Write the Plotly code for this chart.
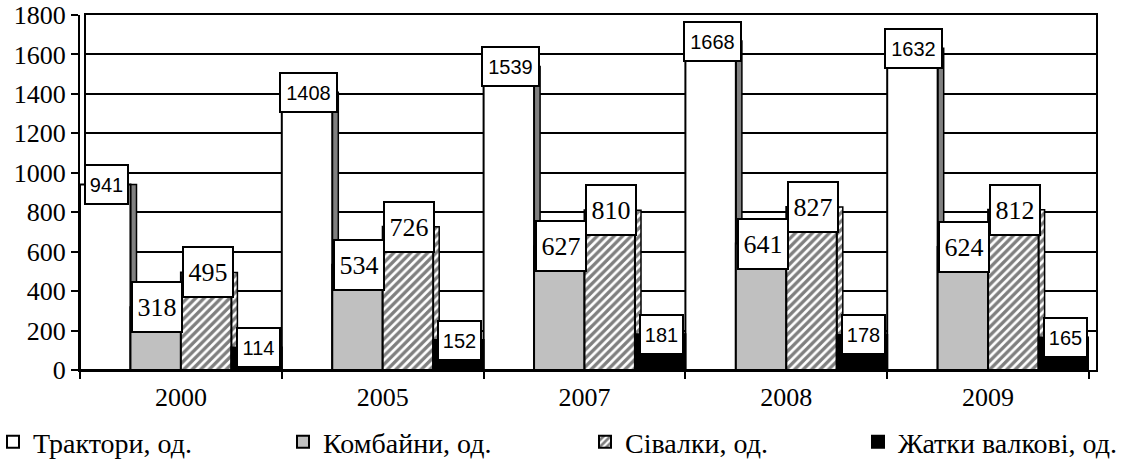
import plotly.graph_objects as go

years = ["2000", "2005", "2007", "2008", "2009"]
tractors = [941, 1408, 1539, 1668, 1632]
combines = [318, 534, 627, 641, 624]
seeders = [495, 726, 810, 827, 812]
reapers = [114, 152, 181, 178, 165]
series_names = ["Трактори, од.", "Комбайни, од.", "Сівалки, од.", "Жатки валкові, од."]
y_ticks = [0, 200, 400, 600, 800, 1000, 1200, 1400, 1600, 1800]

series = [tractors, combines, seeders, reapers]

W, H = 1125, 468
SERIF = "Liberation Serif"
SANS = "Liberation Sans"

def px_x(p):
    return p / W

def px_y(p):
    return 1 - p / H

y_dom = [px_y(370), px_y(15)]
front_x_dom = [px_x(80), px_x(1089)]
back_x_dom = [px_x(86), px_x(1096)]

bar_w = 0.25
side_w = 0.03
pattern = dict(shape="/", fgcolor="black", bgcolor="white", size=6, solidity=0.55)
fills = [dict(color="white"), dict(color="#C0C0C0"),
         dict(color="white", pattern=pattern), dict(color="black")]
side_fills = [dict(color="#808080"), dict(color="#808080"),
              dict(color="white", pattern=pattern), dict(color="black")]
label_fonts = [dict(family=SANS, size=20, color="black"),
               dict(family=SERIF, size=26, color="black"),
               dict(family=SERIF, size=26, color="black"),
               dict(family=SANS, size=20, color="black")]
legend_ids = ["legend", "legend2", "legend3", "legend4"]
legend_text_x = [28, 318, 620, 893]

fig = go.Figure()

# back-wall subplot (gridlines + frame)
fig.add_trace(go.Scatter(x=[], y=[], xaxis="x", yaxis="y", showlegend=False, hoverinfo="skip"))

# side faces of the bars (drawn first so the next bar covers them)
for j, vals in enumerate(series):
    m = dict(side_fills[j])
    m["line"] = dict(color="black", width=1.5)
    fig.add_trace(go.Bar(
        x=years, y=vals, xaxis="x2", yaxis="y2",
        offset=-0.5 + (j + 1) * bar_w, width=side_w,
        marker=m, showlegend=False, hoverinfo="skip",
    ))

# front faces
for j, vals in enumerate(series):
    m = dict(fills[j])
    m["line"] = dict(color="black", width=2)
    fig.add_trace(go.Bar(
        x=years, y=vals, name=series_names[j], xaxis="x2", yaxis="y2",
        offset=-0.5 + j * bar_w, width=bar_w,
        marker=m, legend=legend_ids[j],
    ))

annotations = []
for j, vals in enumerate(series):
    for i, v in enumerate(vals):
        txt = str(v)
        if j in (0, 3):
            bw_, bh_ = (45 if len(txt) == 3 else 59), 41
        else:
            bw_, bh_ = 52, 52
        annotations.append(dict(
            x=i - 0.5 + (j + 0.5) * bar_w, y=v, xref="x2", yref="y2",
            text=txt, showarrow=False, xanchor="center", yanchor="middle",
            xshift=1.5, font=label_fonts[j],
            bgcolor="white", bordercolor="black", borderwidth=2, borderpad=0,
            width=bw_ - 4, height=bh_ - 4,
        ))

layout = dict(
    width=W, height=H,
    margin=dict(l=0, r=0, t=0, b=0, autoexpand=False),
    paper_bgcolor="white", plot_bgcolor="rgba(0,0,0,0)",
    barmode="overlay",
    font=dict(family=SERIF, size=26, color="black"),
    annotations=annotations,
    xaxis=dict(domain=back_x_dom, anchor="y", range=[0, 1], showgrid=False,
               zeroline=False, showline=True, mirror=True, linecolor="black",
               linewidth=2, ticks="", showticklabels=False, fixedrange=True),
    yaxis=dict(domain=y_dom, anchor="x", range=[0, 1800], tickvals=y_ticks,
               showgrid=True, gridcolor="black", gridwidth=2, zeroline=False,
               showline=True, mirror=True, linecolor="black", linewidth=2,
               ticks="", showticklabels=False, fixedrange=True),
    xaxis2=dict(domain=front_x_dom, anchor="y2", type="category",
                categoryorder="array", categoryarray=years, range=[-0.5, 4.5],
                tickson="boundaries", ticks="outside", ticklen=7, tickwidth=2,
                tickcolor="black", showline=True, linecolor="black", linewidth=2,
                showgrid=False, zeroline=False, ticklabelstandoff=3,
                tickfont=dict(family=SERIF, size=26, color="black")),
    yaxis2=dict(domain=y_dom, anchor="x2", range=[0, 1800], tickvals=y_ticks,
                ticks="outside", ticklen=7, tickwidth=2, tickcolor="black",
                showline=True, linecolor="black", linewidth=2, showgrid=False,
                zeroline=False, ticklabeloverflow="allow",
                tickfont=dict(family=SERIF, size=26, color="black")),
)

for k, lid in enumerate(legend_ids):
    layout[lid] = dict(
        x=px_x(legend_text_x[k] - 35), xanchor="left",
        y=px_y(442), yanchor="middle", orientation="h",
        bgcolor="rgba(0,0,0,0)", borderwidth=0,
        font=dict(family=SERIF, size=28, color="black"),
        itemwidth=30,
    )

fig.update_layout(**layout)
fig.write_html("out.html", post_script="document.body.style.margin='0';",
               config={"displayModeBar": False})
